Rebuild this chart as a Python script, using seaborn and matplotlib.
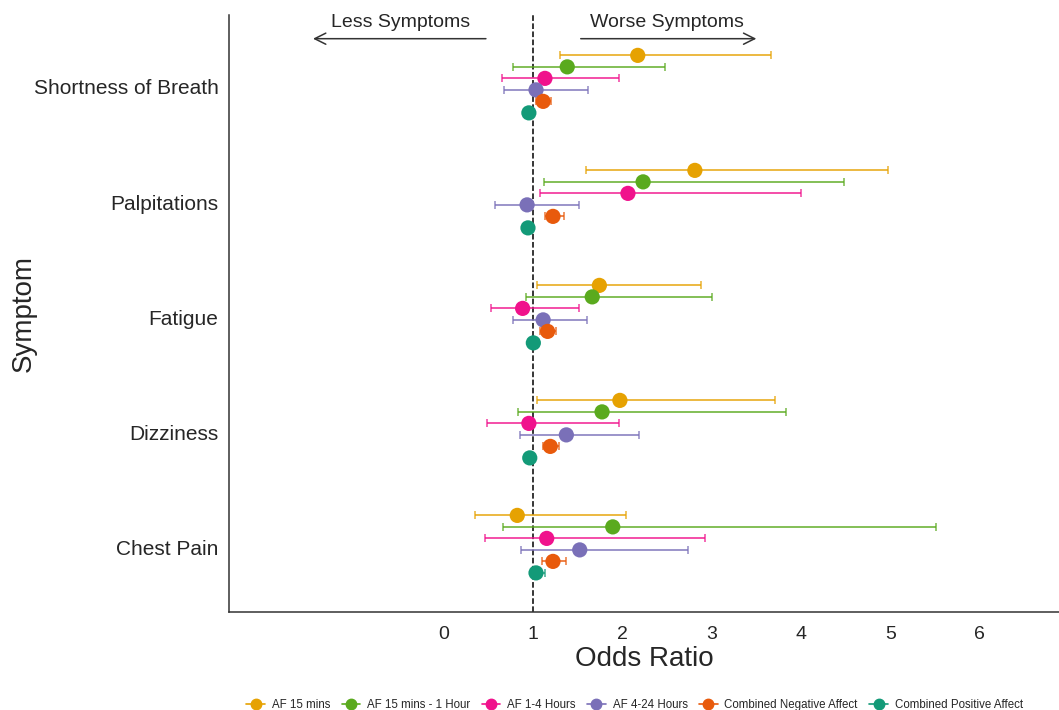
import numpy as np
import pandas as pd
import matplotlib
matplotlib.use("Agg")
import matplotlib.pyplot as plt
import seaborn as sns
from matplotlib.lines import Line2D

# symptoms (top to bottom) and groups
symptoms = ['Shortness of Breath', 'Palpitations', 'Fatigue', 'Dizziness', 'Chest Pain']
groups = ['AF 15 mins', 'AF 15 mins - 1 Hour', 'AF 1-4 Hours', 'AF 4-24 Hours',
          'Combined Negative Affect', 'Combined Positive Affect']
colors = ['#E6A202', '#5AAA1E', '#F0128C', '#7A70B8', '#E85A0C', '#139A78']

# odds ratios per group, one value per symptom
or_af15 = [2.17, 2.81, 1.74, 1.97, 0.82]
or_af15_1h = [1.38, 2.23, 1.66, 1.77, 1.89]
or_af1_4 = [1.13, 2.06, 0.88, 0.95, 1.15]
or_af4_24 = [1.03, 0.93, 1.11, 1.37, 1.52]
or_neg = [1.11, 1.22, 1.16, 1.19, 1.22]
or_pos = [0.95, 0.94, 1.00, 0.96, 1.03]

# lower / upper confidence limits
lo_af15 = [1.30, 1.59, 1.04, 1.04, 0.35]
hi_af15 = [3.66, 4.97, 2.88, 3.71, 2.04]
lo_af15_1h = [0.77, 1.12, 0.92, 0.83, 0.66]
hi_af15_1h = [2.47, 4.48, 3.00, 3.83, 5.51]
lo_af1_4 = [0.65, 1.08, 0.53, 0.48, 0.46]
hi_af1_4 = [1.96, 4.00, 1.51, 1.96, 2.92]
lo_af4_24 = [0.67, 0.57, 0.77, 0.85, 0.86]
hi_af4_24 = [1.61, 1.51, 1.60, 2.18, 2.73]
lo_neg = [1.03, 1.13, 1.08, 1.11, 1.10]
hi_neg = [1.20, 1.34, 1.25, 1.29, 1.37]
lo_pos = [0.92, 0.91, 0.97, 0.93, 0.98]
hi_pos = [0.98, 0.97, 1.03, 0.99, 1.13]

ors = [or_af15, or_af15_1h, or_af1_4, or_af4_24, or_neg, or_pos]
los = [lo_af15, lo_af15_1h, lo_af1_4, lo_af4_24, lo_neg, lo_pos]
his = [hi_af15, hi_af15_1h, hi_af1_4, hi_af4_24, hi_neg, hi_pos]

rows = []
for gi, g in enumerate(groups):
    for si, s in enumerate(symptoms):
        rows.append({'symptom': s, 'group': g,
                     'y': si + (gi - 2.75) * 0.1,
                     'OR': ors[gi][si], 'lo': los[gi][si], 'hi': his[gi][si]})
df = pd.DataFrame(rows)

sns.set_style('white')
plt.rcParams['font.family'] = ['Liberation Sans', 'DejaVu Sans']

fig = plt.figure(figsize=(10.59, 7.1), dpi=100)
ax = fig.add_axes([229 / 1059, 98 / 710, 1 - 229 / 1059, (612 - 15) / 710])

# confidence intervals
for gi, g in enumerate(groups):
    d = df[df['group'] == g]
    ax.errorbar(d['OR'], d['y'], xerr=[d['OR'] - d['lo'], d['hi'] - d['OR']],
                fmt='none', ecolor=colors[gi], alpha=0.75, elinewidth=1.4,
                capsize=3, capthick=1.2, zorder=2)

sns.scatterplot(data=df, x='OR', y='y', hue='group', hue_order=groups,
                palette=colors, s=120, edgecolor='none', legend=False, ax=ax, zorder=3)

ax.axvline(1, color='black', linestyle='--', linewidth=1.1, zorder=1)

ax.set_xlim(-2.41, 6.89)
ax.set_ylim(4.565, -0.626)
ax.set_xticks(range(0, 7))
ax.set_yticks(range(len(symptoms)))
ax.set_yticklabels(symptoms)
ax.tick_params(axis='both', labelsize=15, length=4, color='#333333', direction='out')
ax.tick_params(axis='x', labelsize=14, pad=6)
ax.set_xlabel('Odds Ratio', fontsize=20, labelpad=2)
ax.set_ylabel('Symptom', fontsize=20)
ax.yaxis.set_label_coords(-0.232, 0.5)
for sp in ['top', 'right']:
    ax.spines[sp].set_visible(False)
for sp in ['left', 'bottom']:
    ax.spines[sp].set_color('#333333')
    ax.spines[sp].set_linewidth(1.1)

# direction annotations
ax.annotate('', xy=(-1.50, -0.42), xytext=(0.50, -0.42),
            arrowprops=dict(arrowstyle='->', color='#333333', lw=1.1, mutation_scale=20))
ax.annotate('', xy=(3.53, -0.42), xytext=(1.50, -0.42),
            arrowprops=dict(arrowstyle='->', color='#333333', lw=1.1, mutation_scale=20))
ax.text(-0.49, -0.565, 'Less Symptoms', fontsize=14, ha='center', va='center')
ax.text(2.50, -0.565, 'Worse Symptoms', fontsize=14, ha='center', va='center')

handles = [Line2D([0], [0], color=c, marker='o', markersize=7.5, linewidth=1.2) for c in colors]
fig.legend(handles, groups, loc='center left', bbox_to_anchor=(236 / 1059, 1 - 705 / 710),
           ncol=6, frameon=False, fontsize=8.3, handlelength=1.6, columnspacing=1.0,
           handletextpad=0.6)

fig.savefig('out.png', dpi=100)
